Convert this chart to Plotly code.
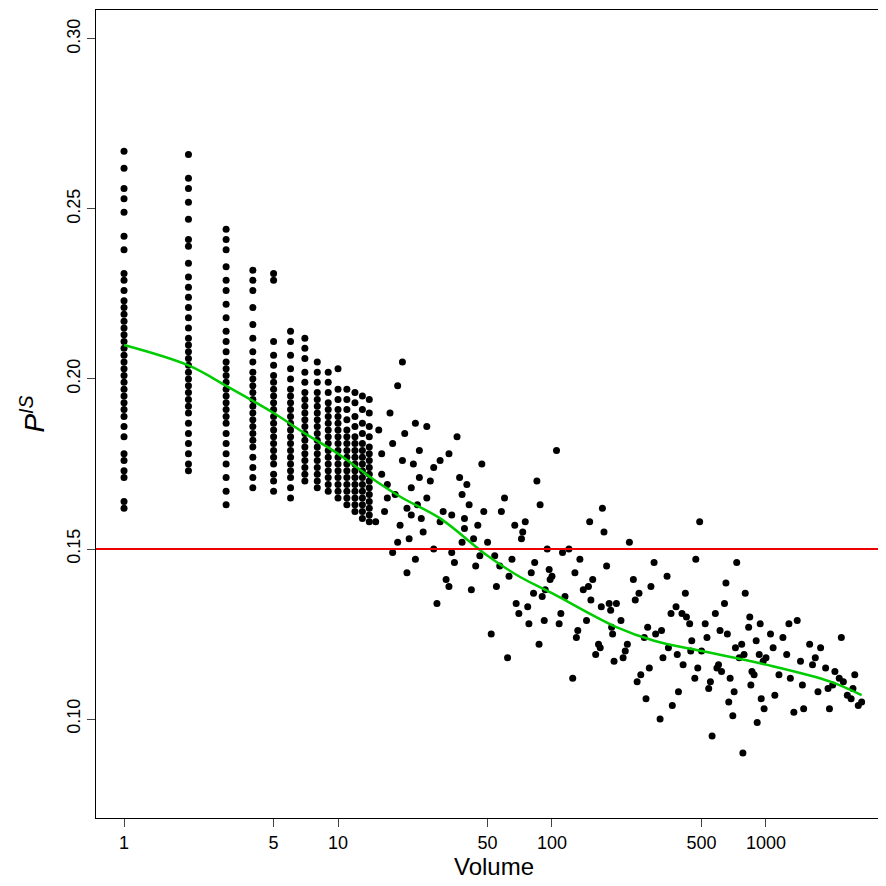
import plotly.graph_objects as go

# discrete-volume columns (volume, P values)
col_x = [1, 2, 3, 4, 5, 6, 7, 8, 9, 10, 11, 12, 13, 14]
col_y = [
    [0.162,0.164,0.171,0.173,0.176,0.178,0.183,0.186,0.189,0.191,0.193,0.195,0.197,0.199,0.201,0.203,0.205,0.207,0.209,0.211,0.213,0.215,0.217,0.219,0.221,0.223,0.226,0.229,0.231,0.238,0.242,0.249,0.253,0.256,0.262,0.267],
    [0.173,0.175,0.178,0.181,0.184,0.187,0.19,0.192,0.194,0.196,0.198,0.2,0.202,0.204,0.206,0.208,0.21,0.212,0.215,0.218,0.221,0.224,0.227,0.23,0.234,0.239,0.241,0.247,0.252,0.256,0.259,0.266],
    [0.163,0.167,0.171,0.175,0.178,0.181,0.184,0.187,0.189,0.191,0.193,0.195,0.197,0.199,0.201,0.203,0.205,0.208,0.211,0.214,0.218,0.222,0.226,0.229,0.233,0.238,0.241,0.244],
    [0.168,0.171,0.174,0.177,0.18,0.182,0.184,0.186,0.188,0.19,0.192,0.194,0.196,0.198,0.2,0.202,0.205,0.208,0.212,0.216,0.221,0.226,0.229,0.232],
    [0.167,0.17,0.172,0.175,0.177,0.179,0.181,0.183,0.185,0.187,0.189,0.191,0.193,0.195,0.197,0.199,0.201,0.204,0.207,0.211,0.229,0.231],
    [0.165,0.168,0.171,0.173,0.175,0.177,0.179,0.181,0.183,0.185,0.187,0.189,0.191,0.193,0.195,0.197,0.2,0.203,0.207,0.211,0.214],
    [0.17,0.172,0.174,0.176,0.178,0.18,0.182,0.184,0.186,0.188,0.19,0.192,0.194,0.196,0.199,0.202,0.206,0.209,0.212],
    [0.168,0.17,0.172,0.174,0.176,0.178,0.18,0.182,0.184,0.186,0.188,0.19,0.192,0.194,0.196,0.199,0.202,0.205],
    [0.167,0.169,0.171,0.173,0.175,0.177,0.179,0.181,0.183,0.185,0.187,0.189,0.191,0.193,0.196,0.199,0.202],
    [0.165,0.167,0.169,0.171,0.173,0.175,0.177,0.179,0.181,0.183,0.185,0.187,0.189,0.191,0.194,0.197,0.203],
    [0.163,0.165,0.167,0.169,0.171,0.173,0.175,0.177,0.179,0.181,0.183,0.185,0.188,0.191,0.194,0.197],
    [0.161,0.163,0.165,0.167,0.169,0.171,0.173,0.175,0.177,0.179,0.181,0.183,0.186,0.189,0.193,0.196],
    [0.159,0.161,0.163,0.165,0.167,0.169,0.171,0.173,0.175,0.177,0.179,0.181,0.184,0.187,0.191,0.195],
    [0.158,0.16,0.162,0.164,0.166,0.168,0.17,0.172,0.174,0.176,0.178,0.18,0.183,0.186,0.19,0.194],
]

# continuous cloud (volume, P)
cloud_x = [15,16,17,18,19,20,21,22,23,24,15.5,16.5,17.5,18.5,19.5,20.5,21.5,22.5,23.5,24.5,
           16,18,20,22,24,17,19,21,23,25,
           26,28,30,32,34,36,38,40,42,45,27,29,31,33,35,37,39,41,44,47,26,30,34,38,43,48,28,33,39,46,
           50,55,60,65,70,75,80,85,90,95,52,58,63,68,73,78,83,88,93,98,54,62,72,82,92,57,67,77,87,97,
           100,110,120,130,140,150,160,170,180,190,105,115,125,135,145,155,165,175,185,195,108,128,148,168,188,112,132,152,172,192,
           200,220,240,260,280,300,330,360,390,420,450,480,210,230,250,270,290,320,350,380,410,440,470,
           215,245,275,305,345,385,425,465,225,255,285,325,365,405,445,490,
           500,540,580,620,660,700,750,800,850,900,950,520,560,600,640,680,720,780,830,880,930,980,
           530,590,650,710,770,840,910,970,550,610,670,730,790,860,940,
           1000,1100,1200,1300,1400,1500,1650,1800,1950,2100,2300,2500,2700,1050,1150,1250,1350,1450,1600,1750,1900,2050,2200,2400,2600,2800,
           1080,1280,1480,1700,1980,2250,2550]
cloud_y = [0.158,0.172,0.165,0.181,0.152,0.176,0.162,0.168,0.147,0.171,0.185,0.161,0.19,0.166,0.157,0.184,0.153,0.175,0.163,0.159,
           0.178,0.149,0.205,0.16,0.179,0.169,0.198,0.143,0.187,0.155,
           0.165,0.15,0.176,0.141,0.16,0.183,0.152,0.169,0.138,0.157,0.17,0.134,0.161,0.178,0.146,0.171,0.156,0.163,0.145,0.175,
           0.186,0.158,0.149,0.166,0.153,0.161,0.174,0.139,0.159,0.148,
           0.152,0.139,0.165,0.147,0.131,0.158,0.143,0.17,0.136,0.15,0.125,0.161,0.142,0.134,0.155,0.128,0.146,0.163,0.138,0.141,
           0.148,0.118,0.153,0.137,0.129,0.145,0.157,0.133,0.122,0.144,
           0.142,0.131,0.15,0.124,0.138,0.158,0.119,0.133,0.145,0.127,0.179,0.136,0.112,0.147,0.129,0.141,0.122,0.155,0.134,0.117,
           0.128,0.143,0.139,0.121,0.132,0.149,0.126,0.135,0.162,0.125,
           0.134,0.12,0.141,0.113,0.127,0.146,0.118,0.131,0.108,0.137,0.123,0.115,0.129,0.152,0.111,0.124,0.139,0.1,0.121,0.133,0.116,0.128,0.147,
           0.118,0.135,0.106,0.125,0.142,0.119,0.13,0.112,0.122,0.137,0.115,0.126,0.104,0.131,0.12,0.158,
           0.12,0.109,0.131,0.114,0.125,0.101,0.118,0.137,0.11,0.123,0.106,0.128,0.095,0.116,0.134,0.112,0.121,0.09,0.127,0.113,0.119,0.103,
           0.124,0.115,0.14,0.108,0.122,0.13,0.099,0.117,0.111,0.126,0.105,0.146,0.119,0.114,0.128,
           0.118,0.107,0.124,0.112,0.129,0.103,0.116,0.121,0.109,0.114,0.111,0.106,0.104,0.125,0.113,0.119,0.102,0.117,0.122,0.108,0.115,0.11,0.112,0.107,0.113,0.105,
           0.121,0.128,0.11,0.118,0.103,0.124,0.109]

# smoothed fit
fit_x = [1, 2, 3, 5, 7, 10, 15, 20, 30, 50, 70, 100, 200, 300, 500, 1000, 2000, 2800]
fit_y = [0.210, 0.204, 0.198, 0.190, 0.184, 0.178, 0.170, 0.165, 0.159, 0.148, 0.142, 0.137, 0.127, 0.123, 0.120, 0.116, 0.111, 0.107]

ref_line = 0.15
x_ticks = [1, 5, 10, 50, 100, 500, 1000]
y_ticks = [0.10, 0.15, 0.20, 0.25, 0.30]

sx, sy = [], []
for x, ys in zip(col_x, col_y):
    sx += [x] * len(ys)
    sy += ys
sx += cloud_x
sy += cloud_y

fig = go.Figure()
fig.add_trace(go.Scatter(x=sx, y=sy, mode="markers",
                         marker=dict(color="black", size=7), showlegend=False))
fig.add_trace(go.Scatter(x=fit_x, y=fit_y, mode="lines", line=dict(color="#00cc00", width=2.5,
                         shape="spline"), showlegend=False))
fig.add_hline(y=ref_line, line=dict(color="#ee0000", width=2))

fig.update_layout(
    width=886, height=886, paper_bgcolor="white", plot_bgcolor="white",
    margin=dict(l=88, r=2, t=2, b=76),
    font=dict(family="Liberation Sans, Arial", size=18, color="black"),
    xaxis=dict(type="log", range=[-0.131, 3.589], tickvals=x_ticks, ticktext=[str(v) for v in x_ticks],
               automargin=False,
               showgrid=False, zeroline=False, showline=True, mirror=True, linecolor="black",
               ticks="outside", ticklen=8, title=dict(text="Volume", font=dict(size=24), standoff=4)),
    yaxis=dict(range=[0.0709, 0.3085], tickvals=y_ticks, ticktext=["0.10", "0.15", "0.20", "0.25", "0.30"],
               automargin=False,
               tickangle=-90, showgrid=False, zeroline=False, showline=True, mirror=True, linecolor="black",
               ticks="outside", ticklen=8,
               title=dict(text="<i>P</i><sup><i>IS</i></sup>", font=dict(size=28), standoff=10)),
)
fig.write_html("out.html")
